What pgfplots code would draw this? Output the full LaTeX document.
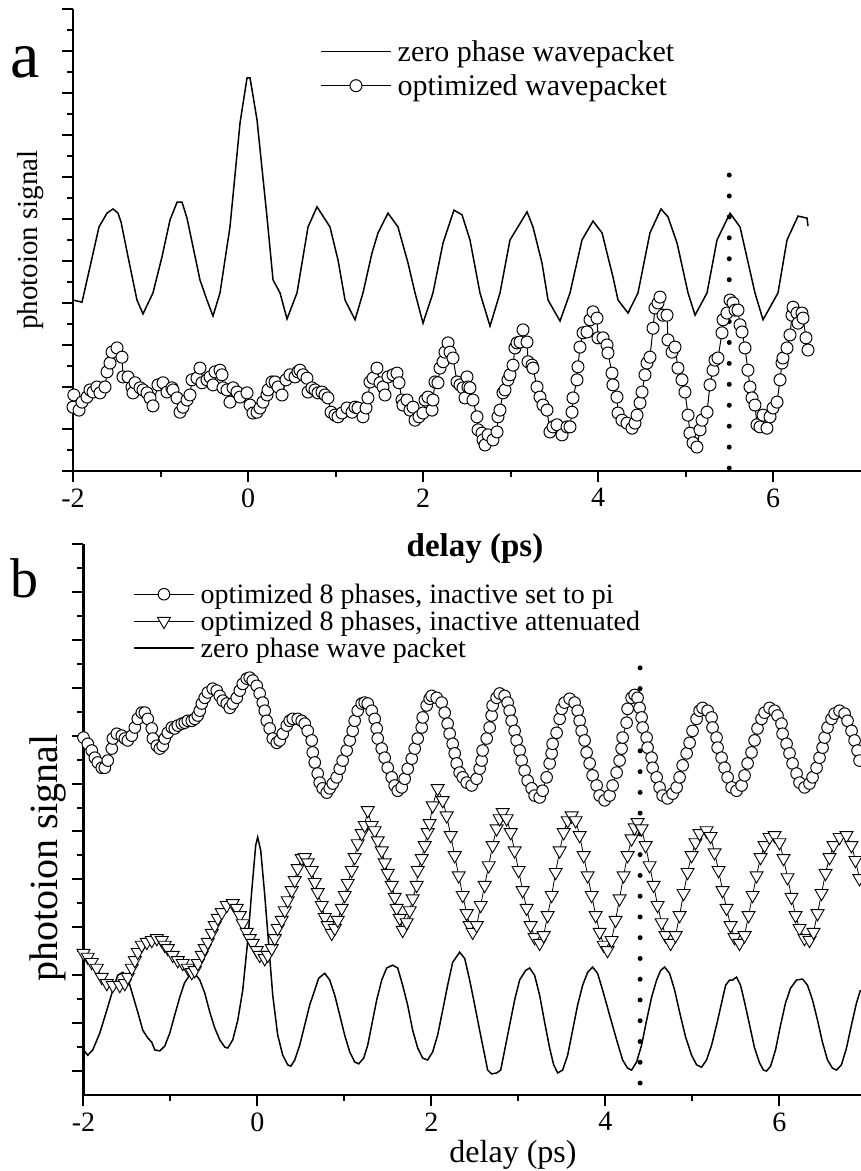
\documentclass[border=0pt]{standalone}
\usepackage{pgfplots}
\pgfplotsset{compat=1.18}
\usepackage{fontspec}
\setmainfont{Liberation Serif}
\begin{document}
\begin{tikzpicture}
\useasboundingbox (0,0) rectangle (861pt,1171pt);
\pgfplotsset{
  myaxis/.style={
    scale only axis,
    axis lines=left,
    axis line style={-, line width=2.5pt},
    tick align=outside,
    major tick length=11pt,
    minor tick length=6pt,
    tick style={line width=2pt, black},
    xtick={-2,0,2,4,6},
    xticklabels={-2,0,2,4,6},
    minor xtick={-1,1,3,5},
    ytick={0,1,...,11},
    yticklabels={},
    minor ytick={0.5,1.5,...,10.5},
    xticklabel style={font=\fontsize{28}{28}\selectfont, yshift=-3pt},
    legend cell align=left,
  },
}
% ---------------- panel a ----------------
\begin{axis}[myaxis,
  at={(73pt,700pt)}, anchor=south west,
  width=787.5pt, height=462pt,
  xmin=-2, xmax=7, ymin=0, ymax=11,
  xlabel={delay (ps)},
  xlabel style={at={(axis description cs:0.5105,-0.186)}, anchor=base, font=\bfseries\fontsize{33}{33}\selectfont},
  ylabel={photoion signal},
  ylabel style={at={(axis description cs:-0.0533,0.5)}, anchor=center, font=\fontsize{29}{29}\selectfont},
  legend style={draw=none, fill=none, at={(axis description cs:0.3137,0.935)}, anchor=north west,
    font=\fontsize{30}{34}\selectfont, inner sep=0pt, row sep=10pt, column sep=5pt, nodes={inner sep=1pt}},
  legend image code/.code={\draw[mark repeat=2,mark phase=2,#1] plot coordinates {(0pt,0pt) (35pt,0pt) (70pt,0pt)};},
]
\addplot[black, line width=1.5pt] coordinates {
(-2.0,4.07) (-1.897,4.02) (-1.783,5.07) (-1.703,5.81) (-1.611,6.14) (-1.543,6.24) (-1.486,6.14) (-1.451,5.93) (-1.371,5.10) (-1.269,4.07) (-1.2,3.74) (-1.086,4.24) (-0.983,5.10) (-0.891,5.98) (-0.811,6.40) (-0.754,6.40) (-0.697,6.02) (-0.549,4.55) (-0.469,4.07) (-0.4,3.69) (-0.32,4.24) (-0.206,5.81) (-0.091,8.29) (-0.011,9.36) (0.023,9.36) (0.103,8.36) (0.217,6.05) (0.286,4.55) (0.366,4.24) (0.446,3.62) (0.56,4.24) (0.686,5.81) (0.789,6.29) (0.937,5.81) (1.029,5.02) (1.109,4.07) (1.223,3.60) (1.314,4.24) (1.417,5.19) (1.486,5.67) (1.6,6.14) (1.714,5.81) (1.829,4.95) (1.909,4.24) (2.0,3.52) (2.114,4.24) (2.229,5.43) (2.354,6.21) (2.446,6.10) (2.537,5.50) (2.651,4.24) (2.766,3.45) (2.88,4.24) (2.994,5.50) (3.189,6.17) (3.257,5.81) (3.36,4.95) (3.429,4.07) (3.566,3.57) (3.68,4.24) (3.817,5.50) (3.943,5.95) (4.046,5.67) (4.171,4.62) (4.229,4.07) (4.343,3.76) (4.457,4.24) (4.594,5.67) (4.72,6.24) (4.8,6.05) (4.903,5.43) (5.029,4.24) (5.109,3.71) (5.246,4.24) (5.36,5.50) (5.509,6.14) (5.623,5.81) (5.794,4.24) (5.886,3.60) (6.057,4.24) (6.16,5.50) (6.286,6.07) (6.389,6.02) (6.4,5.83)
};
\addlegendentry{zero phase wavepacket}
\addplot[black, line width=1pt, mark=*, mark size=6pt, mark options={fill=white, draw=black, line width=1pt}] coordinates {
(-2.0,1.52) (-1.99,1.81) (-1.931,1.45) (-1.897,1.64) (-1.84,1.76) (-1.806,1.93) (-1.771,1.88) (-1.726,2.0) (-1.691,1.86) (-1.634,2.0) (-1.611,2.36) (-1.577,2.57) (-1.554,2.83) (-1.497,2.93) (-1.44,2.71) (-1.429,2.24) (-1.371,2.24) (-1.326,2.0) (-1.314,1.86) (-1.291,2.10) (-1.234,1.98) (-1.2,1.93) (-1.154,1.86) (-1.12,1.74) (-1.086,1.55) (-1.029,2.05) (-0.971,2.10) (-0.926,1.88) (-0.869,1.98) (-0.857,1.93) (-0.811,1.74) (-0.777,1.40) (-0.743,1.52) (-0.697,1.69) (-0.663,1.81) (-0.64,2.17) (-0.583,2.21) (-0.549,2.45) (-0.526,2.10) (-0.469,2.17) (-0.434,2.24) (-0.4,2.05) (-0.377,2.36) (-0.32,2.40) (-0.297,2.29) (-0.286,1.98) (-0.24,1.93) (-0.206,1.64) (-0.171,1.98) (-0.126,1.88) (-0.091,1.76) (-0.011,1.86) (0.023,1.57) (0.057,1.38) (0.103,1.40) (0.137,1.50) (0.171,1.64) (0.217,1.81) (0.229,1.93) (0.274,2.12) (0.309,2.12) (0.343,2.0) (0.389,1.81) (0.434,2.17) (0.48,2.29) (0.537,2.24) (0.571,2.36) (0.594,2.40) (0.629,2.29) (0.674,2.21) (0.686,1.88) (0.731,1.98) (0.766,1.93) (0.8,1.86) (0.846,1.88) (0.88,1.81) (0.914,1.74) (0.949,1.40) (0.994,1.33) (1.029,1.29) (1.074,1.38) (1.131,1.50) (1.189,1.40) (1.223,1.52) (1.257,1.50) (1.314,1.29) (1.349,1.50) (1.371,1.74) (1.394,2.12) (1.429,2.21) (1.474,2.45) (1.509,2.10) (1.543,2.0) (1.566,1.81) (1.6,2.24) (1.657,2.29) (1.703,2.33) (1.726,2.10) (1.76,1.69) (1.771,1.57) (1.817,1.69) (1.851,1.45) (1.886,1.52) (1.909,1.21) (1.954,1.29) (2.0,1.38) (2.023,1.69) (2.057,1.76) (2.103,1.45) (2.114,1.69) (2.137,2.12) (2.171,2.10) (2.194,2.45) (2.229,2.60) (2.251,2.83) (2.286,3.05) (2.309,2.83) (2.343,2.69) (2.389,2.12) (2.423,2.05) (2.457,1.98) (2.48,1.74) (2.503,2.24) (2.514,2.0) (2.537,1.98) (2.571,1.69) (2.617,1.29) (2.629,0.98) (2.674,0.90) (2.686,0.74) (2.709,0.62) (2.743,0.86) (2.8,0.74) (2.846,0.93) (2.857,1.29) (2.88,1.45) (2.914,1.86) (2.937,1.93) (2.971,2.17) (2.994,2.29) (3.029,2.52) (3.051,2.93) (3.074,3.05) (3.109,3.07) (3.143,3.36) (3.189,3.07) (3.2,2.60) (3.246,2.52) (3.257,2.45) (3.303,2.0) (3.337,1.76) (3.371,1.57) (3.417,1.45) (3.451,0.93) (3.486,1.05) (3.531,1.10) (3.589,0.86) (3.646,1.05) (3.68,1.05) (3.703,1.40) (3.714,1.74) (3.76,2.17) (3.771,2.48) (3.794,2.95) (3.829,3.29) (3.874,3.31) (3.909,3.60) (3.943,3.79) (3.989,3.64) (4.0,3.17) (4.057,3.17) (4.103,3.0) (4.114,2.81) (4.16,2.33) (4.171,2.05) (4.217,1.76) (4.229,1.38) (4.274,1.21) (4.331,1.14) (4.389,1.02) (4.423,1.14) (4.446,1.33) (4.48,1.62) (4.503,1.88) (4.537,2.29) (4.56,2.57) (4.594,2.71) (4.629,3.40) (4.651,3.88) (4.686,4.0) (4.709,4.14) (4.743,3.71) (4.789,3.71) (4.8,3.12) (4.846,2.83) (4.88,2.95) (4.914,2.45) (4.96,2.17) (4.994,1.88) (5.029,1.33) (5.051,0.90) (5.086,0.67) (5.131,0.57) (5.166,0.98) (5.189,1.21) (5.246,1.40) (5.28,2.05) (5.314,2.40) (5.337,2.64) (5.371,2.69) (5.417,3.29) (5.429,3.60) (5.474,3.76) (5.509,4.07) (5.543,4.0) (5.566,3.83) (5.6,3.83) (5.623,3.48) (5.646,3.31) (5.68,2.93) (5.714,2.40) (5.737,2.0) (5.76,1.74) (5.794,1.57) (5.817,1.10) (5.851,1.05) (5.886,1.33) (5.931,1.02) (5.966,1.29) (6.0,1.50) (6.046,1.64) (6.08,2.17) (6.103,2.57) (6.114,2.69) (6.16,2.93) (6.194,3.24) (6.217,3.71) (6.229,3.90) (6.274,3.76) (6.286,3.52) (6.331,3.76) (6.343,3.64) (6.377,3.17) (6.4,2.88)
};
\addlegendentry{optimized wavepacket}
\addplot[forget plot, black, line width=5pt, line cap=round, dash pattern=on 0pt off 20.93pt] coordinates {(5.5,0.07) (5.5,7.05)};
\end{axis}
% ---------------- panel b ----------------
\begin{axis}[myaxis,
  at={(83.5pt,76pt)}, anchor=south west,
  width=777.5pt, height=551pt,
  xmin=-2, xmax=6.94, ymin=-0.5, ymax=11,
  xlabel={delay (ps)},
  xlabel style={at={(axis description cs:0.5524,-0.1234)}, anchor=base, font=\fontsize{32}{32}\selectfont},
  ylabel={photoion signal},
  ylabel style={at={(axis description cs:-0.0457,0.43)}, anchor=center, font=\fontsize{40}{40}\selectfont},
  legend style={draw=none, fill=none, at={(axis description cs:0.0637,0.93)}, anchor=north west,
    font=\fontsize{28}{30}\selectfont, inner sep=0pt, row sep=4pt, column sep=5pt, nodes={inner sep=1pt}},
  legend image code/.code={\draw[mark repeat=2,mark phase=2,#1] plot coordinates {(0pt,0pt) (30pt,0pt) (60pt,0pt)};},
]
\addplot[black, line width=0.8pt, mark=*, mark size=5.8pt, mark options={fill=white, draw=black, line width=1pt}] coordinates {
(-2.0,6.96) (-1.951,6.83) (-1.905,6.69) (-1.870,6.54) (-1.836,6.44) (-1.790,6.33) (-1.755,6.33) (-1.721,6.48) (-1.675,6.73) (-1.663,6.94) (-1.617,7.04) (-1.560,7.0) (-1.525,6.94) (-1.491,6.90) (-1.445,7.0) (-1.410,7.17) (-1.376,7.35) (-1.330,7.48) (-1.295,7.48) (-1.261,7.35) (-1.215,7.15) (-1.203,6.94) (-1.157,6.79) (-1.123,6.73) (-1.089,6.79) (-1.066,6.94) (-1.031,7.06) (-0.985,7.17) (-0.951,7.15) (-0.916,7.21) (-0.870,7.25) (-0.836,7.27) (-0.801,7.31) (-0.755,7.31) (-0.721,7.35) (-0.686,7.42) (-0.663,7.52) (-0.640,7.67) (-0.606,7.79) (-0.571,7.90) (-0.514,7.98) (-0.468,7.94) (-0.433,7.83) (-0.399,7.73) (-0.353,7.67) (-0.318,7.58) (-0.284,7.67) (-0.238,7.79) (-0.203,7.94) (-0.169,8.08) (-0.123,8.19) (-0.089,8.21) (-0.054,8.15) (-0.008,8.04) (0.026,7.88) (0.061,7.69) (0.084,7.52) (0.107,7.31) (0.141,7.15) (0.176,6.94) (0.222,6.85) (0.256,6.90) (0.291,7.04) (0.337,7.21) (0.371,7.31) (0.406,7.35) (0.463,7.35) (0.509,7.31) (0.544,7.25) (0.578,7.10) (0.624,6.90) (0.636,6.65) (0.659,6.44) (0.693,6.21) (0.716,6.02) (0.750,5.90) (0.797,5.81) (0.831,5.90) (0.866,6.0) (0.911,6.13) (0.946,6.31) (0.980,6.48) (1.026,6.69) (1.061,6.90) (1.095,7.10) (1.118,7.31) (1.153,7.52) (1.199,7.67) (1.233,7.69) (1.268,7.67) (1.314,7.52) (1.348,7.35) (1.371,7.15) (1.383,6.94) (1.429,6.73) (1.463,6.54) (1.498,6.33) (1.544,6.13) (1.578,5.96) (1.613,5.85) (1.659,5.92) (1.693,6.10) (1.728,6.31) (1.774,6.52) (1.808,6.73) (1.843,6.94) (1.889,7.17) (1.900,7.38) (1.946,7.63) (1.980,7.77) (2.003,7.83) (2.061,7.79) (2.118,7.69) (2.153,7.48) (2.187,7.25) (2.210,7.04) (2.245,6.83) (2.268,6.63) (2.291,6.42) (2.325,6.23) (2.360,6.13) (2.406,6.02) (2.463,5.96) (2.520,6.10) (2.555,6.31) (2.578,6.48) (2.589,6.69) (2.636,6.94) (2.670,7.17) (2.693,7.42) (2.704,7.63) (2.750,7.79) (2.785,7.88) (2.842,7.83) (2.877,7.69) (2.900,7.52) (2.923,7.31) (2.957,7.10) (2.980,6.90) (3.015,6.69) (3.038,6.48) (3.072,6.27) (3.107,6.06) (3.153,5.90) (3.187,5.75) (3.245,5.71) (3.279,5.85) (3.325,6.13) (3.360,6.42) (3.383,6.63) (3.394,6.83) (3.440,7.06) (3.475,7.35) (3.498,7.56) (3.532,7.69) (3.590,7.77) (3.647,7.69) (3.682,7.52) (3.705,7.31) (3.728,7.10) (3.762,6.90) (3.785,6.65) (3.820,6.42) (3.854,6.17) (3.900,5.96) (3.934,5.75) (3.992,5.65) (4.049,5.75) (4.084,5.96) (4.130,6.23) (4.164,6.48) (4.187,6.73) (4.199,6.96) (4.245,7.27) (4.256,7.56) (4.302,7.79) (4.337,7.85) (4.371,7.79) (4.394,7.58) (4.417,7.38) (4.429,7.17) (4.475,6.96) (4.486,6.75) (4.532,6.54) (4.544,6.33) (4.590,6.13) (4.624,5.92) (4.659,5.75) (4.716,5.69) (4.774,5.79) (4.820,5.92) (4.854,6.13) (4.889,6.38) (4.935,6.63) (4.969,6.85) (5.003,7.10) (5.049,7.35) (5.084,7.52) (5.118,7.58) (5.176,7.52) (5.222,7.38) (5.233,7.17) (5.279,6.96) (5.291,6.75) (5.337,6.54) (5.371,6.33) (5.406,6.13) (5.452,5.92) (5.509,5.85) (5.567,5.96) (5.601,6.17) (5.636,6.42) (5.681,6.65) (5.716,6.90) (5.750,7.15) (5.796,7.35) (5.831,7.48) (5.888,7.58) (5.946,7.52) (5.980,7.42) (6.026,7.25) (6.038,7.04) (6.084,6.83) (6.118,6.63) (6.153,6.42) (6.199,6.21) (6.233,6.02) (6.291,5.92) (6.348,6.0) (6.383,6.13) (6.429,6.33) (6.463,6.54) (6.498,6.75) (6.521,6.96) (6.555,7.17) (6.601,7.35) (6.636,7.46) (6.693,7.52) (6.751,7.46) (6.785,7.31) (6.831,7.10) (6.866,6.90) (6.900,6.69) (6.923,6.48) (6.96,6.25)
};
\addlegendentry{optimized 8 phases, inactive set to pi}
\addplot[black, line width=0.8pt, mark=triangle*, mark size=7.5pt, mark options={rotate=180, fill=white, draw=black, line width=0.9pt}] coordinates {
(-2.0,2.46) (-1.951,2.38) (-1.905,2.27) (-1.847,2.15) (-1.790,1.96) (-1.732,1.83) (-1.663,1.79) (-1.583,1.79) (-1.525,1.83) (-1.491,1.96) (-1.445,2.15) (-1.410,2.31) (-1.376,2.48) (-1.330,2.63) (-1.272,2.69) (-1.215,2.73) (-1.157,2.77) (-1.100,2.73) (-1.066,2.63) (-1.031,2.56) (-0.974,2.42) (-0.916,2.31) (-0.859,2.25) (-0.801,2.15) (-0.755,2.06) (-0.721,2.10) (-0.686,2.25) (-0.640,2.42) (-0.606,2.56) (-0.571,2.69) (-0.525,2.88) (-0.491,3.04) (-0.456,3.19) (-0.410,3.31) (-0.353,3.46) (-0.284,3.50) (-0.238,3.40) (-0.203,3.25) (-0.169,3.08) (-0.123,2.90) (-0.089,2.77) (-0.054,2.67) (-0.008,2.52) (0.026,2.42) (0.084,2.35) (0.118,2.42) (0.164,2.56) (0.199,2.77) (0.233,2.98) (0.279,3.15) (0.314,3.35) (0.348,3.56) (0.394,3.77) (0.429,3.98) (0.463,4.23) (0.509,4.44) (0.544,4.46) (0.578,4.35) (0.624,4.19) (0.659,3.94) (0.693,3.73) (0.739,3.46) (0.774,3.21) (0.808,3.04) (0.854,2.88) (0.889,2.98) (0.923,3.15) (0.969,3.40) (1.003,3.67) (1.038,3.92) (1.084,4.19) (1.118,4.46) (1.153,4.75) (1.199,4.96) (1.233,5.13) (1.268,5.44) (1.314,5.13) (1.348,5.02) (1.383,4.81) (1.429,4.60) (1.463,4.35) (1.498,4.13) (1.544,3.88) (1.578,3.63) (1.601,3.40) (1.636,3.19) (1.670,2.94) (1.716,3.10) (1.751,3.35) (1.785,3.60) (1.831,3.88) (1.843,4.19) (1.889,4.44) (1.923,4.71) (1.957,4.98) (1.980,5.17) (2.015,5.54) (2.072,5.90) (2.130,5.65) (2.176,5.33) (2.222,4.92) (2.268,4.50) (2.314,4.08) (2.360,3.67) (2.406,3.29) (2.440,3.04) (2.475,2.90) (2.521,3.04) (2.567,3.46) (2.613,3.88) (2.659,4.29) (2.704,4.71) (2.750,5.06) (2.785,5.27) (2.820,5.40) (2.865,5.27) (2.912,4.98) (2.957,4.60) (3.003,4.19) (3.049,3.77) (3.095,3.40) (3.141,3.04) (3.187,2.79) (3.245,2.67) (3.291,2.83) (3.337,3.25) (3.383,3.67) (3.429,4.15) (3.475,4.60) (3.521,4.98) (3.567,5.23) (3.613,5.33) (3.659,5.23) (3.705,4.92) (3.751,4.50) (3.797,4.08) (3.843,3.67) (3.889,3.25) (3.935,2.90) (3.981,2.63) (4.026,2.52) (4.072,2.73) (4.118,3.15) (4.164,3.60) (4.210,4.08) (4.256,4.50) (4.302,4.85) (4.337,5.08) (4.371,5.19) (4.417,5.06) (4.463,4.71) (4.509,4.29) (4.555,3.88) (4.601,3.46) (4.647,3.10) (4.693,2.83) (4.751,2.67) (4.808,2.83) (4.854,3.25) (4.900,3.71) (4.946,4.15) (4.992,4.50) (5.037,4.77) (5.083,4.96) (5.164,5.02) (5.210,4.90) (5.256,4.56) (5.302,4.19) (5.348,3.77) (5.394,3.40) (5.440,3.04) (5.486,2.79) (5.543,2.67) (5.601,2.83) (5.647,3.25) (5.693,3.67) (5.739,4.08) (5.785,4.46) (5.831,4.71) (5.888,4.88) (5.946,4.92) (6.003,4.77) (6.049,4.44) (6.095,4.04) (6.141,3.63) (6.187,3.25) (6.233,2.98) (6.291,2.77) (6.348,2.73) (6.394,2.90) (6.440,3.29) (6.486,3.71) (6.532,4.13) (6.578,4.46) (6.624,4.71) (6.693,4.88) (6.773,4.92) (6.830,4.71) (6.876,4.40) (6.922,4.02)
};
\addlegendentry{optimized 8 phases, inactive attenuated}
\addplot[black, line width=1.5pt] coordinates {
(-2.0,0.44) (-1.951,0.33) (-1.894,0.44) (-1.813,0.79) (-1.732,1.27) (-1.663,1.69) (-1.606,2.0) (-1.548,2.06) (-1.491,1.94) (-1.433,1.58) (-1.376,1.23) (-1.318,0.85) (-1.261,0.69) (-1.215,0.60) (-1.180,0.44) (-1.123,0.42) (-1.066,0.52) (-1.008,0.79) (-0.951,1.17) (-0.893,1.54) (-0.836,1.85) (-0.778,2.0) (-0.721,2.04) (-0.663,1.90) (-0.606,1.63) (-0.548,1.23) (-0.491,0.90) (-0.433,0.65) (-0.376,0.50) (-0.341,0.48) (-0.284,0.65) (-0.226,1.06) (-0.169,1.69) (-0.111,2.73) (-0.065,3.77) (-0.020,4.71) (0.003,4.88) (0.038,4.60) (0.084,3.67) (0.130,2.63) (0.176,1.58) (0.233,0.75) (0.291,0.33) (0.348,0.13) (0.383,0.10) (0.429,0.23) (0.486,0.54) (0.544,0.96) (0.601,1.38) (0.659,1.69) (0.705,1.94) (0.774,2.04) (0.831,1.90) (0.889,1.58) (0.946,1.17) (1.003,0.75) (1.061,0.40) (1.118,0.19) (1.164,0.15) (1.222,0.27) (1.268,0.54) (1.314,0.96) (1.371,1.48) (1.429,1.90) (1.486,2.15) (1.555,2.21) (1.613,2.15) (1.670,1.79) (1.727,1.38) (1.785,0.85) (1.843,0.48) (1.900,0.27) (1.957,0.23) (2.015,0.40) (2.072,0.75) (2.130,1.27) (2.187,1.79) (2.245,2.27) (2.325,2.48) (2.383,2.35) (2.440,1.90) (2.498,1.38) (2.555,0.85) (2.613,0.33) (2.647,0.02) (2.693,-0.06) (2.751,-0.04) (2.797,0.02) (2.843,0.44) (2.900,0.96) (2.957,1.48) (3.015,1.90) (3.084,2.10) (3.130,2.15) (3.187,2.0) (3.245,1.58) (3.302,1.02) (3.360,0.48) (3.406,0.13) (3.452,-0.04) (3.509,0.02) (3.567,0.33) (3.624,0.85) (3.682,1.38) (3.739,1.79) (3.797,2.06) (3.854,2.17) (3.911,2.04) (3.969,1.69) (4.049,1.17) (4.130,0.65) (4.199,0.23) (4.256,0.06) (4.302,0.02) (4.360,0.19) (4.417,0.54) (4.475,1.06) (4.532,1.54) (4.590,1.90) (4.636,2.10) (4.682,2.17) (4.739,2.04) (4.797,1.69) (4.854,1.23) (4.923,0.71) (4.992,0.33) (5.049,0.13) (5.107,0.08) (5.164,0.23) (5.222,0.54) (5.279,0.96) (5.337,1.42) (5.383,1.79) (5.429,1.90) (5.463,1.90) (5.509,1.96) (5.555,1.79) (5.601,1.44) (5.659,0.96) (5.716,0.48) (5.773,0.17) (5.819,0.02) (5.854,0.0) (5.900,0.10) (5.957,0.44) (6.015,0.96) (6.072,1.42) (6.130,1.73) (6.199,1.90) (6.268,1.92) (6.325,1.79) (6.383,1.48) (6.440,1.06) (6.497,0.60) (6.555,0.23) (6.612,0.06) (6.658,0.02) (6.715,0.13) (6.773,0.48) (6.830,0.96) (6.888,1.42) (6.934,1.69)
};
\addlegendentry{zero phase wave packet}
\addplot[forget plot, black, line width=5pt, line cap=round, dash pattern=on 0pt off 20.76pt] coordinates {(4.4,-0.25) (4.4,8.83)};
\end{axis}
\node[anchor=base west, inner sep=0pt, font=\fontsize{66}{66}\selectfont] at (10pt,1093pt) {a};
\node[anchor=base west, inner sep=0pt, font=\fontsize{56}{56}\selectfont] at (10pt,573pt) {b};
\end{tikzpicture}
\end{document}
